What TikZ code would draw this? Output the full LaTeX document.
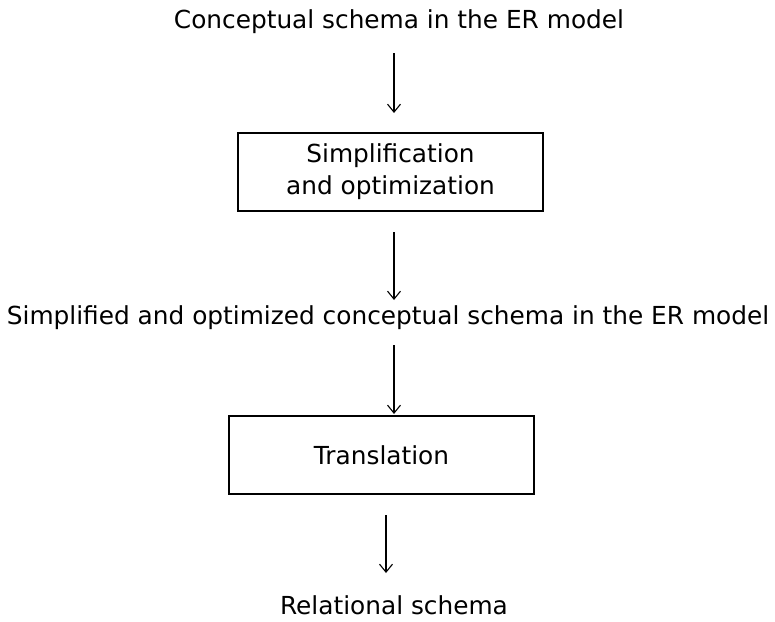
\documentclass[tikz,border=0pt]{standalone}
\usepackage{fontspec}
\setmainfont{DejaVu Sans}
\usetikzlibrary{arrows.meta}
\begin{document}
\begin{tikzpicture}[x=1pt,y=-1pt,
  label text/.style={font=\fontsize{24.8}{30}\selectfont, inner sep=0pt, anchor=center},
  stepbox/.style={draw, line width=1.8pt, minimum width=305pt, minimum height=78pt,
    inner sep=0pt, align=center, font=\fontsize{24.8}{32}\selectfont},
  flow/.style={line width=1.1pt, -{Straight Barb[length=8pt,width=13pt,line width=1.1pt]}}]
  \useasboundingbox (0,0) rectangle (775,621);
  % texts and process boxes
  \node[label text] (title) at (399,22) {Conceptual schema in the ER model};
  \node[stepbox] (simp) at (390.5,172) {Simplification\\and optimization};
  \node[label text] (mid) at (388,318) {Simplified and optimized conceptual schema in the ER model};
  \node[stepbox] (trans) at (381.5,455) {Translation};
  \node[label text] (rel) at (394,605) {Relational schema};
  % vertical axes for the arrows
  \coordinate (ax) at (394,0);
  \coordinate (bx) at (386,0);
  \coordinate (a1s) at (ax |- 0,53);
  \coordinate (a1e) at (ax |- 0,113);
  \coordinate (a2s) at (ax |- 0,232);
  \coordinate (a2e) at (ax |- 0,300);
  \coordinate (a3s) at (ax |- 0,345);
  \coordinate (a3e) at (ax |- 0,414);
  \coordinate (a4s) at (bx |- 0,515);
  \coordinate (a4e) at (bx |- 0,573);
  \draw[flow] (a1s) -- (a1e);
  \draw[flow] (a2s) -- (a2e);
  \draw[flow] (a3s) -- (a3e);
  \draw[flow] (a4s) -- (a4e);
\end{tikzpicture}
\end{document}
